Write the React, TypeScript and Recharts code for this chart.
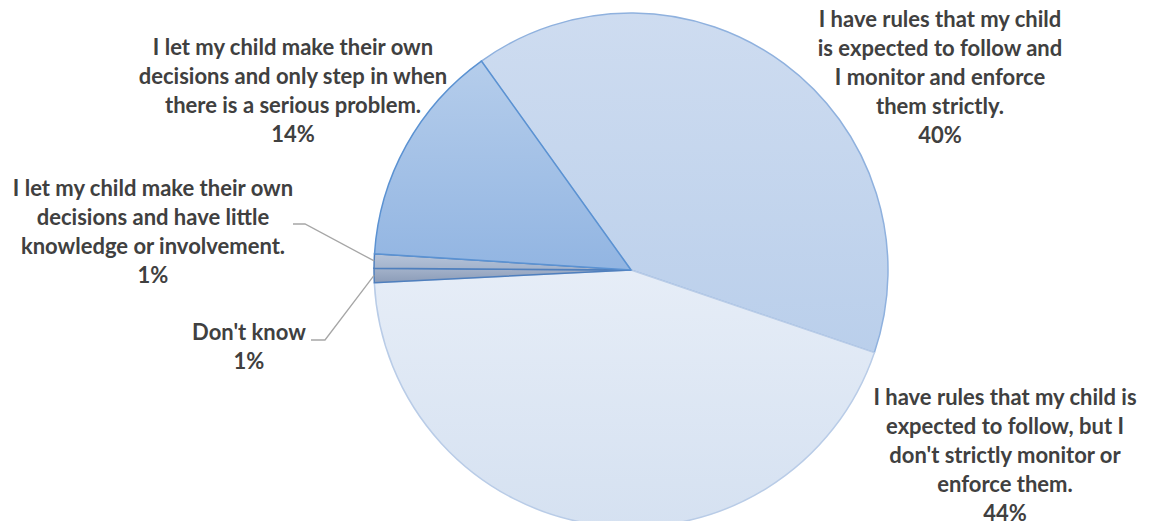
import { PieChart, Pie, Cell } from 'recharts'

// categories in clockwise order starting at the 40% slice
const categories = [
  'I have rules that my child\nis expected to follow and\nI monitor and enforce\nthem strictly.',
  "I have rules that my child is\nexpected to follow, but I\ndon't strictly monitor or\nenforce them.",
  "Don't know",
  'I let my child make their own\ndecisions and have little\nknowledge or involvement.',
  'I let my child make their own\ndecisions and only step in when\nthere is a serious problem.',
]
const shares = [40.1, 44.0, 0.9, 0.9, 14.1]

const gradTop = ['#cedcf0', '#e6edf7', '#a3b2ca', '#b6c4da', '#b5cdeb']
const gradBottom = ['#bacfeb', '#d5e1f1', '#8c9cb8', '#a2b2cb', '#92b5e2']
const outlines = ['#8fb1de', '#b9cce7', '#4f7fbd', '#4f7fbd', '#5b92d2']

// label block placement relative to the pie centre (first line centre)
const labelLayout = [
  { dx: 309, dy: -252, elbow: null },
  { dx: 374, dy: 126, elbow: null },
  { dx: -382, dy: 61, elbow: { x: 62, y: 9, len: 14 } },
  { dx: -478, dy: -83, elbow: { x: 140, y: 37, len: 12 } },
  { dx: -338, dy: -224, elbow: null },
]

const LINE_H = 29
const RAD = Math.PI / 180

const chartData = categories.map((name, i) => ({ name, value: shares[i] }))

const renderLabel = (props: any) => {
  const { cx, cy, midAngle, outerRadius, index, value, name } = props
  const lay = labelLayout[index]
  const x = cx + lay.dx
  const y = cy + lay.dy
  const lines = [...String(name).split('\n'), `${Math.round(value)}%`]
  let leader = null
  if (lay.elbow) {
    const ex = cx + outerRadius * Math.cos(-midAngle * RAD)
    const ey = cy + outerRadius * Math.sin(-midAngle * RAD)
    const sx = x + lay.elbow.x
    const sy = y + lay.elbow.y
    leader = (
      <polyline
        points={`${sx},${sy} ${sx + lay.elbow.len},${sy} ${ex},${ey}`}
        fill="none"
        stroke="#a6a6a6"
        strokeWidth={1.3}
      />
    )
  }
  return (
    <g key={`lbl-${index}`}>
      {leader}
      <text
        x={x}
        y={y}
        textAnchor="middle"
        fill="#404040"
        style={{ fontFamily: 'Lato, sans-serif', fontWeight: 700, fontSize: 22 }}
      >
        {lines.map((ln, i) => (
          <tspan key={i} x={x} y={y + i * LINE_H} dominantBaseline="central">
            {ln}
          </tspan>
        ))}
      </text>
    </g>
  )
}

export default function App() {
  return (
    <div style={{ margin: -8, width: 1151, height: 529, background: '#ffffff' }}>
      <PieChart width={1151} height={529} margin={{ top: 0, right: 0, bottom: 0, left: 0 }}>
        <defs>
          {categories.map((_, i) => (
            <linearGradient key={i} id={`slice-${i}`} x1="0" y1="0" x2="0" y2="1">
              <stop offset="0%" stopColor={gradTop[i]} />
              <stop offset="100%" stopColor={gradBottom[i]} />
            </linearGradient>
          ))}
        </defs>
        <Pie
          data={chartData}
          dataKey="value"
          nameKey="name"
          cx={631}
          cy={270}
          outerRadius={257}
          startAngle={125.6}
          endAngle={-234.4}
          label={renderLabel}
          labelLine={false}
          isAnimationActive={false}
        >
          {chartData.map((_, i) => (
            <Cell key={i} fill={`url(#slice-${i})`} stroke={outlines[i]} strokeWidth={1.5} />
          ))}
        </Pie>
      </PieChart>
    </div>
  )
}
